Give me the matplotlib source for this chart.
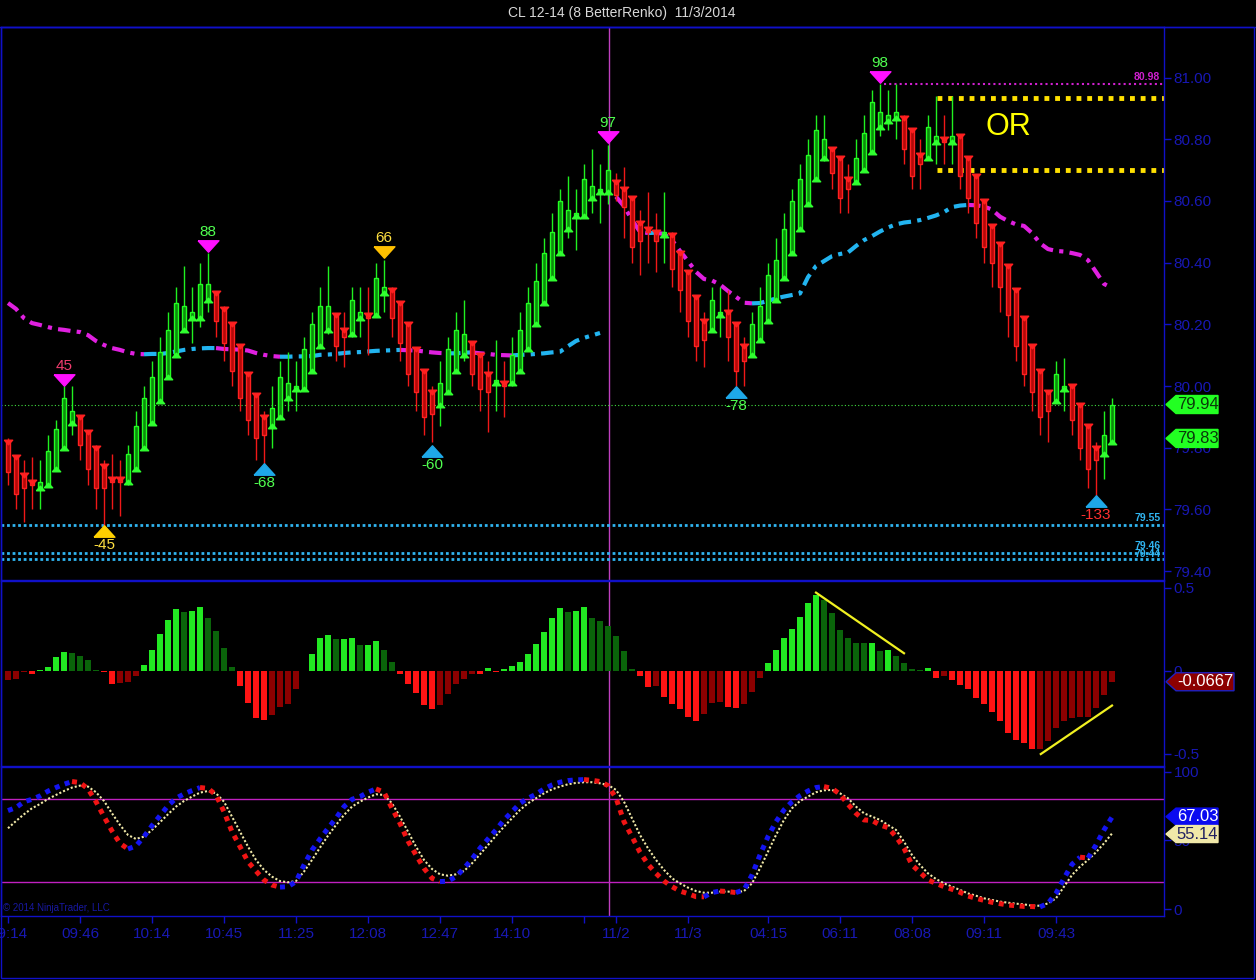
import matplotlib
matplotlib.use('Agg')
import matplotlib.pyplot as plt
import matplotlib.transforms as mtransforms
from matplotlib.patches import Polygon, Rectangle
from matplotlib.lines import Line2D
import numpy as np

plt.rcParams['font.family'] = ['Liberation Sans', 'DejaVu Sans']

# ---------------- data ----------------
opens = [79.82, 79.77, 79.71, 79.69, 79.67, 79.68, 79.73, 79.80, 79.88, 79.90,
         79.85, 79.80, 79.74, 79.70, 79.70, 79.69, 79.73, 79.80, 79.88, 79.95,
         80.03, 80.10, 80.18, 80.22, 80.22, 80.28, 80.30, 80.25, 80.20, 80.13,
         80.04, 79.97, 79.90, 79.87, 79.90, 79.96, 79.99, 79.99, 80.05, 80.13,
         80.18, 80.23, 80.18, 80.17, 80.22, 80.23, 80.23, 80.30, 80.31, 80.27,
         80.20, 80.12, 80.05, 79.98, 79.94, 79.98, 80.05, 80.10, 80.14, 80.10,
         80.04, 80.01, 80.01, 80.01, 80.05, 80.12, 80.20, 80.27, 80.35, 80.43,
         80.51, 80.55, 80.55, 80.61, 80.63, 80.63, 80.66, 80.64, 80.61, 80.53,
         80.51, 80.50, 80.49, 80.49, 80.43, 80.37, 80.29, 80.21, 80.18, 80.23,
         80.24, 80.20, 80.13, 80.10, 80.15, 80.21, 80.28, 80.35, 80.43, 80.51,
         80.59, 80.67, 80.74, 80.77, 80.74, 80.67, 80.66, 80.70, 80.76, 80.84,
         80.86, 80.87, 80.87, 80.83, 80.75, 80.74, 80.79, 80.80, 80.79, 80.81,
         80.74, 80.68, 80.60, 80.52, 80.46, 80.39, 80.31, 80.22, 80.13, 80.05,
         79.98, 79.95, 79.99, 80.00, 79.94, 79.87, 79.80, 79.78, 79.82]
highs = [79.83, 79.77, 79.76, 79.77, 79.76, 79.84, 79.89, 80.00, 80.00, 79.90,
         79.85, 79.81, 79.76, 79.78, 79.76, 79.81, 79.92, 80.00, 80.08, 80.16,
         80.24, 80.32, 80.39, 80.32, 80.40, 80.43, 80.30, 80.26, 80.20, 80.13,
         80.04, 79.97, 79.92, 80.00, 80.08, 80.11, 80.08, 80.16, 80.24, 80.32,
         80.39, 80.23, 80.24, 80.32, 80.32, 80.32, 80.40, 80.41, 80.32, 80.27,
         80.20, 80.12, 80.05, 80.00, 80.08, 80.16, 80.24, 80.28, 80.14, 80.10,
         80.08, 80.15, 80.08, 80.16, 80.24, 80.32, 80.40, 80.48, 80.56, 80.64,
         80.68, 80.64, 80.72, 80.77, 80.72, 80.78, 80.69, 80.71, 80.61, 80.57,
         80.63, 80.56, 80.63, 80.50, 80.43, 80.37, 80.29, 80.24, 80.32, 80.32,
         80.31, 80.20, 80.16, 80.24, 80.32, 80.40, 80.48, 80.56, 80.64, 80.72,
         80.80, 80.88, 80.88, 80.77, 80.74, 80.72, 80.80, 80.88, 80.96, 80.98,
         80.96, 80.98, 80.88, 80.83, 80.80, 80.88, 80.94, 80.88, 80.94, 80.81,
         80.74, 80.68, 80.60, 80.52, 80.46, 80.39, 80.31, 80.22, 80.13, 80.05,
         79.98, 80.08, 80.09, 80.00, 79.94, 79.87, 79.82, 79.92, 79.96]
lows = [79.68, 79.60, 79.56, 79.60, 79.60, 79.68, 79.73, 79.80, 79.84, 79.76,
        79.68, 79.60, 79.54, 79.60, 79.58, 79.68, 79.73, 79.80, 79.88, 79.95,
        80.03, 80.10, 80.18, 80.14, 80.19, 80.24, 80.16, 80.08, 80.00, 79.92,
        79.84, 79.76, 79.74, 79.80, 79.90, 79.92, 79.92, 79.99, 80.05, 80.13,
        80.17, 80.08, 80.06, 80.16, 80.16, 80.10, 80.23, 80.24, 80.16, 80.08,
        80.00, 79.92, 79.84, 79.82, 79.87, 79.98, 80.05, 80.08, 80.00, 79.92,
        79.85, 79.92, 79.90, 80.00, 80.05, 80.12, 80.20, 80.27, 80.35, 80.43,
        80.48, 80.44, 80.55, 80.56, 80.53, 80.59, 80.60, 80.48, 80.40, 80.36,
        80.40, 80.37, 80.40, 80.32, 80.24, 80.16, 80.08, 80.06, 80.18, 80.16,
        80.08, 80.00, 80.00, 80.10, 80.15, 80.21, 80.28, 80.35, 80.43, 80.51,
        80.59, 80.67, 80.73, 80.64, 80.56, 80.56, 80.66, 80.70, 80.76, 80.81,
        80.83, 80.80, 80.72, 80.64, 80.64, 80.74, 80.72, 80.72, 80.72, 80.64,
        80.56, 80.48, 80.40, 80.32, 80.24, 80.16, 80.08, 80.00, 79.92, 79.84,
        79.82, 79.95, 79.92, 79.84, 79.76, 79.67, 79.64, 79.70, 79.82]
closes = [79.72, 79.65, 79.67, 79.68, 79.69, 79.79, 79.86, 79.96, 79.92, 79.81,
          79.73, 79.67, 79.67, 79.69, 79.69, 79.78, 79.87, 79.96, 80.03, 80.11,
          80.18, 80.27, 80.26, 80.24, 80.33, 80.33, 80.21, 80.14, 80.05, 79.96,
          79.89, 79.83, 79.84, 79.93, 80.03, 80.01, 80.00, 80.12, 80.20, 80.26,
          80.26, 80.13, 80.16, 80.28, 80.24, 80.22, 80.35, 80.32, 80.22, 80.14,
          80.04, 79.98, 79.90, 79.91, 80.01, 80.12, 80.18, 80.17, 80.04, 79.99,
          79.98, 80.02, 80.00, 80.10, 80.18, 80.27, 80.34, 80.43, 80.50, 80.60,
          80.57, 80.56, 80.67, 80.65, 80.64, 80.70, 80.62, 80.58, 80.45, 80.47,
          80.50, 80.47, 80.50, 80.38, 80.31, 80.21, 80.13, 80.15, 80.28, 80.24,
          80.16, 80.05, 80.08, 80.20, 80.26, 80.36, 80.41, 80.51, 80.60, 80.67,
          80.75, 80.83, 80.80, 80.69, 80.61, 80.64, 80.74, 80.82, 80.92, 80.89,
          80.88, 80.89, 80.77, 80.68, 80.72, 80.84, 80.81, 80.79, 80.81, 80.68,
          80.61, 80.53, 80.45, 80.40, 80.32, 80.23, 80.13, 80.04, 79.98, 79.90,
          79.92, 80.04, 80.00, 79.89, 79.80, 79.73, 79.76, 79.84, 79.94]

# session moving average (two sessions)
ma_a = [80.269, 80.250, 80.220, 80.204, 80.198, 80.191, 80.185, 80.182, 80.178, 80.175,
        80.165, 80.146, 80.133, 80.123, 80.117, 80.109, 80.104, 80.103, 80.104, 80.104,
        80.107, 80.112, 80.117, 80.120, 80.122, 80.123, 80.123, 80.120, 80.119, 80.118,
        80.115, 80.107, 80.101, 80.097, 80.095, 80.095, 80.096, 80.096, 80.097, 80.101,
        80.102, 80.104, 80.107, 80.109, 80.110, 80.112, 80.114, 80.115, 80.116, 80.117,
        80.116, 80.115, 80.112, 80.109, 80.107, 80.106, 80.106, 80.108, 80.109, 80.106,
        80.104, 80.101, 80.100, 80.099, 80.101, 80.102, 80.104, 80.106, 80.109, 80.111,
        80.129, 80.146, 80.156, 80.164, 80.172]
ma_b = [80.614, 80.583, 80.538, 80.500, 80.496, 80.497, 80.493, 80.473, 80.438, 80.405,
        80.370, 80.347, 80.342, 80.329, 80.308, 80.289, 80.270, 80.268, 80.269, 80.276,
        80.284, 80.290, 80.295, 80.300, 80.353, 80.389, 80.405, 80.421, 80.428, 80.433,
        80.454, 80.473, 80.486, 80.501, 80.514, 80.524, 80.530, 80.533, 80.538, 80.545,
        80.553, 80.564, 80.580, 80.585, 80.587, 80.586, 80.582, 80.572, 80.549, 80.535,
        80.524, 80.519, 80.496, 80.463, 80.444, 80.438, 80.436, 80.431, 80.425, 80.408,
        80.370, 80.331, 80.318]

hist = [-0.054, -0.050, -0.006, -0.020, 0.006, 0.022, 0.082, 0.114, 0.106, 0.088,
        0.064, 0.004, -0.006, -0.080, -0.072, -0.071, -0.030, 0.034, 0.127, 0.220,
        0.307, 0.371, 0.353, 0.360, 0.384, 0.317, 0.239, 0.137, 0.022, -0.092,
        -0.193, -0.283, -0.295, -0.265, -0.221, -0.199, -0.108, -0.004, 0.100, 0.197,
        0.215, 0.188, 0.191, 0.197, 0.152, 0.157, 0.179, 0.125, 0.052, -0.020,
        -0.080, -0.133, -0.205, -0.229, -0.205, -0.139, -0.078, -0.050, -0.018, -0.022,
        0.016, -0.006, 0.010, 0.028, 0.052, 0.100, 0.161, 0.233, 0.317, 0.378,
        0.356, 0.362, 0.384, 0.317, 0.299, 0.269, 0.209, 0.118, 0.010, -0.030,
        -0.096, -0.093, -0.157, -0.199, -0.229, -0.277, -0.301, -0.259, -0.193, -0.190,
        -0.217, -0.223, -0.199, -0.127, -0.042, 0.046, 0.124, 0.197, 0.251, 0.323,
        0.408, 0.456, 0.426, 0.347, 0.245, 0.197, 0.167, 0.165, 0.167, 0.118,
        0.124, 0.088, 0.046, 0.010, 0.006, 0.016, -0.042, -0.030, -0.054, -0.084,
        -0.108, -0.163, -0.199, -0.247, -0.301, -0.373, -0.416, -0.434, -0.474, -0.470,
        -0.422, -0.343, -0.301, -0.283, -0.279, -0.276, -0.223, -0.145, -0.067]

stoch_k = [71.8, 74.0, 78.3, 80.0, 82.5, 86.0, 88.6, 91.0, 93.0, 92.2,
           87.6, 78.3, 67.4, 56.9, 47.9, 43.8, 46.0, 52.8, 60.8, 68.1,
           75.4, 80.8, 83.9, 86.4, 88.6, 88.0, 83.2, 71.0, 56.4, 45.5,
           34.5, 27.7, 21.2, 17.5, 16.0, 16.3, 20.0, 32.1, 43.0, 51.1,
           58.9, 66.2, 74.7, 80.0, 82.0, 85.2, 87.6, 85.2, 73.5, 62.5,
           49.6, 39.4, 29.7, 22.4, 20.0, 20.3, 23.6, 29.7, 36.5, 44.3,
           51.1, 57.7, 65.0, 71.0, 77.1, 80.8, 83.7, 87.6, 90.5, 92.5,
           93.7, 94.2, 94.4, 93.9, 93.0, 90.0, 81.0, 63.7, 52.8, 41.4,
           32.6, 26.0, 20.4, 16.3, 13.1, 11.2, 9.0, 8.9, 12.0, 13.1,
           12.7, 12.0, 14.0, 24.8, 39.4, 52.8, 63.7, 72.3, 78.3, 82.7,
           86.1, 88.6, 89.3, 88.0, 83.7, 76.4, 69.8, 65.0, 64.6, 61.3,
           59.4, 52.8, 44.3, 32.1, 26.8, 21.2, 18.7, 16.3, 14.4, 12.2,
           9.5, 7.8, 6.3, 4.9, 3.9, 2.9, 2.4, 1.9, 1.8, 1.5,
           4.1, 11.4, 22.4, 32.6, 37.8, 37.2, 46.7, 57.7, 67.0]
stoch_d = [58.9, 64.2, 69.1, 73.5, 76.6, 80.3, 83.2, 86.1, 88.6, 90.0,
           89.3, 85.2, 78.8, 69.8, 61.3, 54.0, 51.1, 52.8, 57.7, 63.3,
           69.1, 74.7, 78.8, 82.0, 84.9, 86.1, 84.4, 78.3, 67.4, 56.4,
           45.5, 35.8, 28.5, 23.6, 20.4, 19.5, 20.4, 27.3, 35.8, 44.8,
           53.5, 61.3, 68.6, 74.7, 78.3, 81.3, 83.7, 83.2, 77.1, 67.4,
           56.4, 45.5, 35.8, 29.2, 25.3, 24.3, 25.3, 27.7, 33.3, 39.9,
           46.7, 53.5, 60.1, 66.2, 72.3, 77.1, 80.8, 84.4, 87.3, 89.3,
           91.0, 92.0, 92.5, 92.5, 91.7, 90.5, 86.9, 78.3, 66.2, 54.0,
           44.3, 35.8, 28.5, 22.4, 18.7, 15.6, 13.1, 11.9, 11.9, 12.7,
           12.7, 12.2, 13.1, 18.7, 29.7, 41.8, 54.0, 65.0, 73.5, 78.8,
           82.0, 85.2, 86.6, 86.9, 84.4, 80.8, 74.7, 69.8, 67.4, 65.0,
           61.3, 57.7, 49.1, 39.4, 32.1, 26.0, 21.9, 18.7, 16.3, 13.9,
           11.4, 9.7, 7.8, 6.6, 5.4, 4.6, 3.9, 3.4, 2.4, 2.4,
           4.1, 7.8, 16.3, 24.8, 30.9, 35.8, 41.4, 47.9, 55.1]

tick_pos = [0, 9, 18, 27, 36, 45, 54, 63, 72, 76, 85, 95, 104, 113, 122, 131]
tick_lab = ['09:14', '09:46', '10:14', '10:45', '11:25', '12:08', '12:47', '14:10',
            '', '11/2', '11/3', '04:15', '06:11', '08:08', '09:11', '09:43']

sig_bar = [7, 12, 25, 32, 47, 53, 75, 91, 109, 136]
sig_price = [80.019, 79.530, 80.454, 79.731, 80.434, 79.789, 80.807, 79.981, 81.002, 79.627]
sig_text = ['45', '-45', '88', '-68', '66', '-60', '97', '-78', '98', '-133']
sig_top = [True, False, True, False, True, False, True, False, True, False]
sig_fill = ['#FF10FF', '#FFD000', '#FF10FF', '#1EA8E8', '#FFC000',
            '#1EA8E8', '#FF10FF', '#1EA8E8', '#FF10FF', '#1EA8E8']
sig_tcol = ['#F03C6E', '#FFE040', '#50FF50', '#50FF50', '#FFE040',
            '#50FF50', '#50FF50', '#50FF50', '#50FF50', '#FF3030']

# ---------------- figure ----------------
W, H = 1256, 980
BLUE = '#1010C8'
TXT = '#1818B4'
fig = plt.figure(figsize=(W / 100, H / 100), dpi=100, facecolor='black')


def rect(x0, y0, x1, y1):
    return [x0 / W, 1 - y1 / H, (x1 - x0) / W, (y1 - y0) / H]


ax1 = fig.add_axes(rect(1, 27, 1164, 580))
ax2 = fig.add_axes(rect(1, 581, 1164, 766), sharex=ax1)
ax3 = fig.add_axes(rect(1, 767, 1164, 916), sharex=ax1)

n = len(closes)
x = np.arange(n)

for ax in (ax1, ax2, ax3):
    ax.set_facecolor('black')
    for s in ax.spines.values():
        s.set_color(BLUE)
        s.set_linewidth(1)
    ax.yaxis.tick_right()
    ax.tick_params(axis='y', colors=BLUE, labelcolor=TXT, length=5, width=1,
                   labelsize=11, pad=2)
    ax.axvline(75.1, color='#C040C0', lw=1, zorder=1)

ax1.set_xlim(-0.875, 144.5)
ax1.tick_params(axis='x', bottom=False, labelbottom=False)
ax2.tick_params(axis='x', bottom=False, labelbottom=False)

# ---------------- price panel ----------------
ax1.set_ylim(79.371, 81.164)
ax1.set_yticks([79.4, 79.6, 79.8, 80.0, 80.2, 80.4, 80.6, 80.8, 81.0])
ax1.set_yticklabels(['%.2f' % v for v in [79.4, 79.6, 79.8, 80.0, 80.2, 80.4, 80.6, 80.8, 81.0]])

o = np.array(opens)
c = np.array(closes)
up = c >= o
body_lo = np.minimum(o, c)
body_h = np.maximum(np.abs(c - o), 0.006)
ax1.vlines(x, lows, highs, colors=np.where(up, '#20F020', '#F01818'), lw=1, zorder=3)
ax1.bar(x[up], body_h[up], bottom=body_lo[up], width=0.62, color='#0C8C0C',
        edgecolor='#22FF22', linewidth=1, zorder=4)
ax1.bar(x[~up], body_h[~up], bottom=body_lo[~up], width=0.62, color='#B40808',
        edgecolor='#FF2020', linewidth=1, zorder=4)

tri_up = [(-1, -0.55), (1, -0.55), (0, 0.55), (-1, -0.55)]
tri_dn = [(-1, 0.55), (1, 0.55), (0, -0.55), (-1, 0.55)]
ax1.plot(x[up], o[up], ls='none', marker=tri_up, ms=6, color='#30FF30', zorder=5)
ax1.plot(x[~up], o[~up], ls='none', marker=tri_dn, ms=6, color='#FF2020', zorder=5)


def draw_runs(ax, xs, ys, up_c, dn_c, **kw):
    cols = [up_c if ys[k + 1] >= ys[k] else dn_c for k in range(len(ys) - 1)]
    start = 0
    for k in range(1, len(cols) + 1):
        if k == len(cols) or cols[k] != cols[start]:
            ax.plot(xs[start:k + 1], ys[start:k + 1], color=cols[start], **kw)
            start = k


ma_style = dict(lw=3, ls=(0, (3, 1.5, 1, 1.5)), zorder=2)
draw_runs(ax1, list(range(0, len(ma_a))), ma_a, '#22B4F0', '#E020E0', **ma_style)
draw_runs(ax1, list(range(76, 76 + len(ma_b))), ma_b, '#22B4F0', '#E020E0', **ma_style)

# horizontal levels
ax1.axhline(79.94, color='#40E040', lw=0.8, ls=(0, (1, 2)), zorder=1)
for lvl in (79.55, 79.46, 79.44):
    ax1.axhline(lvl, color='#30B4F0', lw=2, ls=(0, (1, 1)), zorder=1)
ax1.hlines(80.98, 109.5, 144.5, color='#D020D0', lw=1.5, ls=(0, (1, 1.5)), zorder=1)
ax1.hlines([80.933, 80.700], 116.1, 144.5, color='#FFE000', lw=3.5, ls=(0, (1, 1.2)), zorder=1)
ax1.text(125, 80.839, 'OR', color='#FFFF00', fontsize=22, ha='center', va='center')

small = dict(fontsize=7.5, fontweight='bold', ha='center', va='bottom')
ax1.text(142.4, 80.985, '80.98', color='#D020D0', **small)
ax1.text(142.4, 79.555, '79.55', color='#30B4F0', **small)
ax1.text(142.4, 79.465, '79.46', color='#30B4F0', **small)
ax1.text(142.4, 79.44, '79.44', color='#30B4F0', **small)

for b, p, t, top, fc, tc in zip(sig_bar, sig_price, sig_text, sig_top, sig_fill, sig_tcol):
    ax1.plot([b], [p], marker=tri_dn if top else tri_up, ms=15, color=fc, zorder=6)
    ax1.annotate(t, (b, p), xytext=(0, 5 if top else -5), textcoords='offset points',
                 ha='center', va='bottom' if top else 'top', color=tc, fontsize=11, zorder=6)

# ---------------- histogram panel ----------------
ax2.set_ylim(-0.574, 0.540)
ax2.set_yticks([-0.5, 0, 0.5])
ax2.set_yticklabels(['-0.5', '0', '0.5'])
hv = np.array(hist)
hcols = []
for k, v in enumerate(hv):
    prev = hv[k - 1] if k > 0 else v
    if v >= 0:
        hcols.append('#22E822' if v >= prev else '#0A640A')
    else:
        hcols.append('#FF1414' if v < prev else '#8C0000')
ax2.bar(x, hv, width=0.72, color=hcols, zorder=2)
ax2.plot([101, 112], [0.47, 0.105], color='#F0F020', lw=1.6, zorder=3)
ax2.plot([129.1, 138], [-0.502, -0.21], color='#F0F020', lw=1.6, zorder=3)

# ---------------- stochastic panel ----------------
ax3.set_ylim(-5.1, 103.6)
ax3.set_yticks([0, 50, 100])
ax3.axhline(80, color='#C020C0', lw=1, zorder=1)
ax3.axhline(20, color='#C020C0', lw=1, zorder=1)
ax3.plot(x, stoch_d, color='#F0E8A8', lw=1.5, ls=(0, (1, 1)), zorder=2)
draw_runs(ax3, list(x), stoch_k, '#1414F0', '#F01414', lw=3.6, ls=(0, (1, 1.1)), zorder=3)
ax3.set_xticks(tick_pos)
ax3.set_xticklabels(tick_lab)
ax3.tick_params(axis='x', colors=BLUE, labelcolor=TXT, length=5, width=1,
                labelsize=11, pad=3)
ax3.text(0.002, 0.02, '\u00a9 2014 NinjaTrader, LLC', transform=ax3.transAxes,
         color='#1818A0', fontsize=7, ha='left', va='bottom')

# ---------------- frame, title, price tags ----------------
ident = mtransforms.IdentityTransform()
fig.add_artist(Line2D([0, W], [H - 27, H - 27], transform=ident, color=BLUE, lw=1))
fig.add_artist(Rectangle((1, 2), W - 3, H - 29, transform=ident, fill=False,
                         edgecolor=BLUE, lw=1))
fig.text(622 / W, 1 - 13 / H, 'CL 12-14 (8 BetterRenko)  11/3/2014', color='#D8D8D8',
         ha='center', va='center', fontsize=10)


def tag(ax, value, text, fc, tc, ec, x1=1218, hh=9):
    fig.canvas.draw_idle()
    yp = ax.transData.transform((0, value))[1]
    x0 = 1166
    pts = [(x0, yp), (x0 + 10, yp + hh), (x1, yp + hh), (x1, yp - hh), (x0 + 10, yp - hh)]
    fig.add_artist(Polygon(pts, closed=True, transform=ident, facecolor=fc,
                           edgecolor=ec, lw=1, zorder=5))
    fig.text((x0 + 11 + x1) / 2 / W, yp / H, text, color=tc, fontsize=12,
             ha='center', va='center', zorder=6)


tag(ax1, 79.94, '79.94', '#22FF22', '#0A3A0A', '#22FF22')
tag(ax1, 79.83, '79.83', '#22FF22', '#0A3A0A', '#22FF22')
tag(ax2, -0.0667, '-0.0667', '#8C0000', '#FFFFFF', '#2020C0', x1=1234)
tag(ax3, 67.4, '67.03', '#0A0AF0', '#FFFFFF', '#0A0AF0', hh=8.5)
tag(ax3, 54.7, '55.14', '#F0E8A8', '#202060', '#F0E8A8', hh=8.5)

fig.savefig('out.png', dpi=100, facecolor='black')
